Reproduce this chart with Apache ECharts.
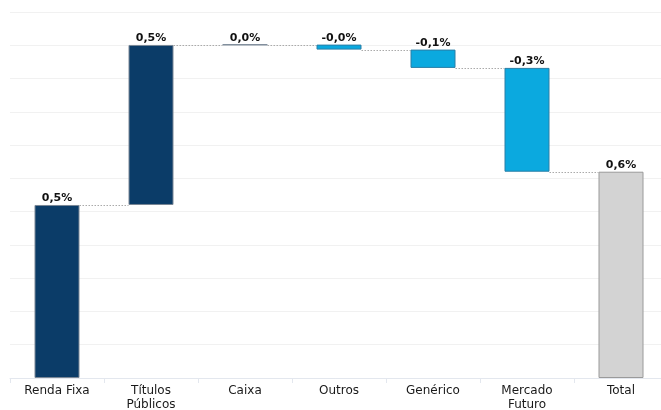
<!DOCTYPE html>
<html>
<head>
<meta charset="utf-8">
<script src="https://cdn.jsdelivr.net/npm/echarts@6/dist/echarts.min.js"></script>
<style>html,body{margin:0;padding:0;background:#fff;}#c{width:661px;height:410px;}</style>
</head>
<body>
<div id="c"></div>
<script>
var categories = ['Renda Fixa', 'Títulos\nPúblicos', 'Caixa', 'Outros', 'Genérico', 'Mercado\nFuturo', 'Total'];
var deltas = [0.52, 0.481, 0.001, -0.015, -0.055, -0.312];
var yTicks = { min: 0, max: 1.1, interval: 0.1 };

var colNavy = '#0b3c68', colBlue = '#0ba9df', colGray = '#d3d3d3';

var baseVals = [], barVals = [], labels = [], ends = [];
var cum = 0;
deltas.forEach(function (d, i) {
  var s = cum, e = cum + d;
  cum = e;
  ends.push(e);
  baseVals.push(Math.min(s, e));
  var pos = d >= 0;
  barVals.push({
    value: Math.abs(d),
    itemStyle: pos ? { color: colNavy, borderColor: '#7a8796', borderWidth: 1 }
                   : { color: colBlue, borderColor: '#2a7fa6', borderWidth: 1 }
  });
  labels.push(d);
});
var total = cum;
baseVals.push(0);
barVals.push({ value: total, itemStyle: { color: colGray, borderColor: '#9a9a9a', borderWidth: 1 } });
labels.push(total);

function fmt(v) { return v.toFixed(1).replace('.', ',') + '%'; }

var connData = ends.map(function (e, i) { return [i, e]; });
var halfBar = 22.5;

var chart = echarts.init(document.getElementById('c'));
chart.setOption({
  animation: false,
  grid: { left: 10, top: 12, width: 658, height: 366, containLabel: false, outerBoundsMode: 'none' },
  xAxis: {
    type: 'category',
    data: categories,
    axisLine: { lineStyle: { color: '#e3e7ee' } },
    axisTick: { show: true, length: 5, lineStyle: { color: '#e3e7ee' } },
    axisLabel: { color: '#1a1a1a', fontFamily: 'DejaVu Sans', fontSize: 12, margin: 6, lineHeight: 14, interval: 0 }
  },
  yAxis: {
    type: 'value',
    min: yTicks.min, max: yTicks.max, interval: yTicks.interval,
    axisLabel: { show: false },
    axisLine: { show: false },
    axisTick: { show: false },
    splitLine: { lineStyle: { color: '#f1f1f1' } }
  },
  series: [
    {
      type: 'bar', stack: 'w', barWidth: 45,
      itemStyle: { color: 'transparent' },
      emphasis: { disabled: true },
      data: baseVals
    },
    {
      type: 'bar', stack: 'w', barWidth: 45,
      data: barVals,
      label: {
        show: true, position: 'top', distance: 1,
        fontFamily: 'DejaVu Sans', fontWeight: 'bold', fontSize: 11, color: '#111',
        formatter: function (p) { return fmt(labels[p.dataIndex]); }
      }
    },
    {
      type: 'custom',
      silent: true,
      z: 1,
      data: connData,
      renderItem: function (params, api) {
        var p = api.coord([api.value(0), api.value(1)]);
        var w = api.size([1, 0])[0];
        var y = Math.round(p[1]) + 0.5;
        return {
          type: 'line',
          shape: { x1: p[0] + halfBar, y1: y, x2: p[0] + w - halfBar, y2: y },
          style: { stroke: '#aaaaaa', lineWidth: 1, lineDash: [1.5, 1.5] }
        };
      }
    }
  ]
});
</script>
</body>
</html>
